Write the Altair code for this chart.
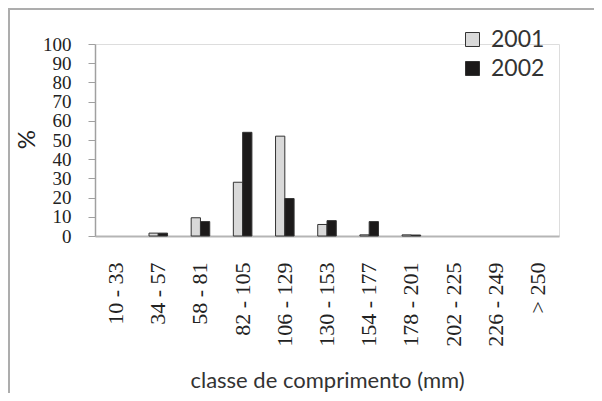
import altair as alt
import pandas as pd

classes = ["10 - 33", "34 - 57", "58 - 81", "82 - 105", "106 - 129", "130 - 153",
           "154 - 177", "178 - 201", "202 - 225", "226 - 249", "> 250"]
pct_2001 = [0, 1.5, 9.5, 28, 52, 6, 0.6, 0.6, 0, 0, 0]
pct_2002 = [0, 1.5, 7.5, 54, 19.5, 8, 7.5, 0.5, 0, 0, 0]
years = ["2001", "2002"]
y_ticks = [0, 10, 20, 30, 40, 50, 60, 70, 80, 90, 100]

rows = []
for c, a, b in zip(classes, pct_2001, pct_2002):
    rows.append({"classe": c, "ano": "2001", "pct": a})
    rows.append({"classe": c, "ano": "2002", "pct": b})
df = pd.DataFrame(rows)

serif = "Liberation Serif"
sans = "Lato"

bars = alt.Chart(df).transform_filter("datum.pct > 0").mark_bar(
    stroke="#333333", strokeWidth=1
).encode(
    x=alt.X("classe:N", sort=classes,
            scale=alt.Scale(domain=classes, paddingInner=0.56, paddingOuter=0.28),
            axis=alt.Axis(title="classe de comprimento (mm)", labelAngle=-90,
                          labelFont=serif, labelFontSize=22, labelColor="#222222",
                          labelOverlap=False,
                          labelPadding=26, ticks=False, tickSize=0,
                          domainColor="#b5b5b5", domainWidth=2,
                          titleFont=sans, titleFontSize=22, titleFontWeight="normal",
                          titleColor="#333333", titleY=151, titleBaseline="alphabetic")),
    xOffset=alt.XOffset("ano:N", sort=years),
    y=alt.Y("pct:Q", scale=alt.Scale(domain=[0, 100]),
            axis=alt.Axis(title="%", values=y_ticks, grid=False, labelOverlap=False,
                          labelFont=serif, labelFontSize=19, labelColor="#222222",
                          labelPadding=17, tickSize=7, tickColor="#a0a0a0",
                          domainColor="#a0a0a0", domainWidth=1.5,
                          titleFont=sans, titleFontSize=24, titleFontWeight="normal",
                          titleColor="#222222", titleX=-68, titleY=95,
                          titleBaseline="middle", titleAngle=-90)),
    color=alt.Color("ano:N", sort=years,
                    scale=alt.Scale(domain=years, range=["#d9d9d9", "#1c1a1a"]),
                    legend=alt.Legend(title=None, orient="none", legendX=366, legendY=-16,
                                      symbolType="square", symbolSize=196,
                                      symbolStrokeColor="#333333", symbolStrokeWidth=1,
                                      symbolOpacity=1,
                                      labelFont=sans, labelFontSize=23, labelColor="#333333",
                                      labelOffset=7, rowPadding=5)),
)

frame_top = alt.Chart(df).mark_rule(color="#adadad", strokeWidth=2).encode(
    x=alt.value(-87), x2=alt.value(520), y=alt.value(-35)
)
frame_left = alt.Chart(df).mark_rule(color="#adadad", strokeWidth=2).encode(
    x=alt.value(-86), y=alt.value(-36), y2=alt.value(360)
)

chart = alt.layer(bars, frame_top, frame_left).properties(
    width=464, height=192,
    autosize=alt.AutoSizeParams(type="none"),
    padding={"left": 87, "top": 36, "right": 35, "bottom": 157},
).configure_view(stroke=None).configure(background="white")

chart.save("out.html", embed_options={"renderer": "svg", "actions": False})
